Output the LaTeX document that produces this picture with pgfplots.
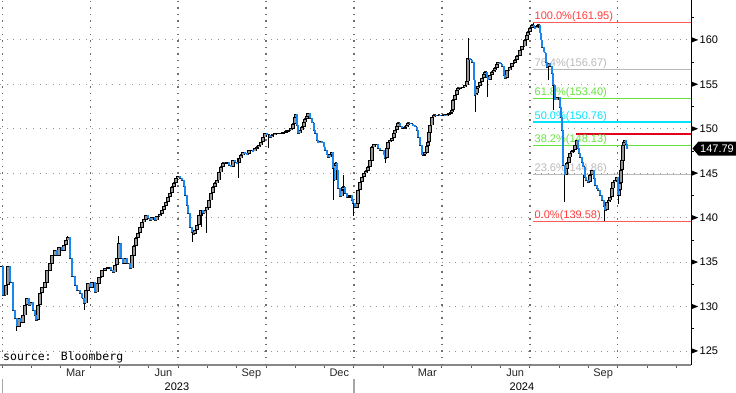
\documentclass[border=0pt]{standalone}
\usepackage{pgfplots}
\pgfplotsset{compat=1.18}
\usepackage{pgfplotstable}
\usepackage{fontspec}
\setmainfont{Liberation Sans}
\newfontfamily\srcfont{DejaVu Sans Mono}
\definecolor{candleblue}{RGB}{25,135,240}
\definecolor{candlegray}{RGB}{150,150,150}
\definecolor{gridgray}{RGB}{150,150,150}
\definecolor{vgridgray}{RGB}{110,110,110}
\definecolor{axgray}{RGB}{135,135,135}
\definecolor{fibred}{RGB}{255,90,90}
\definecolor{fibredtxt}{RGB}{255,60,60}
\definecolor{fibgray}{RGB}{185,185,185}
\definecolor{fibgreen}{RGB}{100,228,60}
\definecolor{fibcyan}{RGB}{0,228,255}
\definecolor{hired}{RGB}{225,0,30}
\newcommand\lab{\fontsize{11}{13}\selectfont}
\tikzset{gridline/.style={draw=gridgray, line width=1pt, dash pattern=on 1pt off 5.6pt},
         vgridline/.style={draw=vgridgray, line width=1.4pt, dash pattern=on 1.4pt off 5.2pt}}
% m = months since 1 Jan 2023, c = close (USD/JPY)
\pgfplotstableread{
m c
-0.070 134.56
0.024 131.30
0.126 132.43
0.194 134.56
0.263 132.76
0.365 129.61
0.433 128.71
0.502 127.81
0.570 128.71
0.638 128.26
0.706 129.05
0.774 130.18
0.843 130.96
0.911 130.18
0.979 130.51
1.047 129.61
1.116 129.05
1.150 128.49
1.218 130.18
1.286 131.53
1.355 132.20
1.457 132.76
1.525 134.11
1.628 134.90
1.696 135.80
1.798 136.36
1.866 135.80
1.935 136.70
2.037 136.36
2.105 136.93
2.173 137.49
2.242 137.83
2.310 135.46
2.378 133.44
2.481 132.43
2.549 131.86
2.651 131.53
2.720 130.96
2.788 130.40
2.856 131.86
2.924 132.65
2.992 132.20
3.061 132.76
3.163 131.64
3.231 132.65
3.300 133.33
3.402 134.11
3.504 134.34
3.607 134.45
3.709 134.11
3.777 133.89
3.845 134.68
3.914 135.46
3.982 137.15
4.050 135.46
4.118 134.90
4.187 135.46
4.255 134.90
4.357 134.34
4.425 135.80
4.494 136.82
4.562 137.72
4.630 138.28
4.698 138.95
4.767 139.52
4.835 139.85
4.903 140.30
4.971 139.97
5.040 139.74
5.108 140.08
5.210 139.74
5.278 140.19
5.381 140.42
5.449 140.87
5.517 141.32
5.586 141.77
5.654 142.33
5.722 142.78
5.790 143.46
5.858 143.91
5.927 144.47
5.995 144.69
6.063 144.47
6.131 144.24
6.200 143.57
6.234 142.55
6.302 141.43
6.336 140.53
6.404 138.95
6.473 138.39
6.507 138.17
6.575 138.62
6.643 139.18
6.711 140.30
6.780 140.87
6.848 140.53
6.916 140.87
6.984 141.20
7.053 141.99
7.121 142.78
7.189 143.46
7.257 143.91
7.326 144.24
7.394 145.14
7.462 145.71
7.530 146.16
7.599 146.16
7.667 146.27
7.735 145.93
7.803 145.71
7.871 146.49
7.940 146.27
8.008 146.16
8.076 146.72
8.144 147.06
8.213 147.39
8.281 147.28
8.349 147.17
8.417 147.62
8.486 147.62
8.554 147.51
8.622 147.84
8.690 147.96
8.759 148.18
8.827 148.52
8.895 149.08
8.963 149.53
9.032 149.31
9.134 149.08
9.202 149.31
9.305 149.53
9.407 149.53
9.509 149.53
9.577 149.64
9.680 149.76
9.748 149.87
9.851 150.09
9.919 150.55
9.987 151.33
10.021 151.67
10.055 150.43
10.089 149.53
10.158 149.87
10.226 150.21
10.294 150.77
10.328 151.11
10.397 151.45
10.431 151.78
10.499 151.22
10.567 150.66
10.635 149.87
10.669 149.53
10.738 148.74
10.772 148.41
10.840 148.63
10.908 148.52
10.977 147.96
11.011 147.62
11.079 147.06
11.113 146.83
11.181 147.17
11.250 147.39
11.284 145.59
11.318 144.24
11.352 145.93
11.386 146.16
11.420 145.37
11.454 143.34
11.523 142.44
11.591 143.12
11.625 143.46
11.693 142.78
11.761 142.33
11.830 142.44
11.864 142.55
11.932 141.99
11.966 141.65
12.034 141.20
12.103 141.65
12.137 143.12
12.205 144.02
12.273 144.58
12.341 145.03
12.410 145.26
12.478 145.71
12.546 146.49
12.614 147.96
12.683 148.29
12.751 148.29
12.819 147.84
12.887 147.62
12.955 147.62
13.024 147.06
13.058 146.72
13.126 147.84
13.160 148.52
13.228 148.74
13.297 148.97
13.365 149.53
13.399 149.87
13.467 150.32
13.501 150.66
13.570 150.32
13.638 150.09
13.706 150.09
13.740 150.21
13.808 150.43
13.843 150.66
13.911 150.55
14.013 150.43
14.081 150.21
14.150 149.87
14.184 149.08
14.252 148.18
14.320 147.06
14.389 147.17
14.423 147.39
14.491 148.07
14.525 148.52
14.559 149.64
14.593 150.43
14.662 151.33
14.730 151.56
14.798 151.45
14.867 151.56
14.935 151.45
15.037 151.56
15.105 151.45
15.173 151.67
15.242 151.78
15.310 151.90
15.344 152.12
15.378 153.25
15.446 153.81
15.515 154.37
15.549 154.60
15.617 154.60
15.719 154.71
15.788 154.93
15.856 155.38
15.890 157.97
15.958 157.75
16.026 157.52
16.095 155.50
16.129 153.81
16.163 154.03
16.197 154.60
16.231 154.82
16.299 155.27
16.367 155.72
16.436 156.17
16.470 156.40
16.538 155.83
16.572 155.50
16.640 156.06
16.709 156.40
16.777 156.62
16.811 156.85
16.879 157.30
16.913 157.52
16.982 157.30
17.050 157.07
17.118 156.06
17.152 155.72
17.220 156.62
17.323 156.96
17.391 157.41
17.494 157.75
17.562 158.20
17.664 158.87
17.732 159.32
17.835 160.00
17.903 160.56
17.937 160.90
18.005 161.35
18.074 161.69
18.142 161.46
18.176 161.35
18.244 161.57
18.278 161.69
18.346 160.79
18.381 160.00
18.415 159.21
18.483 158.65
18.517 158.54
18.551 157.52
18.585 156.96
18.654 157.41
18.688 157.07
18.756 156.28
18.790 154.93
18.858 153.25
18.927 153.58
18.961 153.58
19.029 152.46
19.063 151.33
19.097 149.87
19.131 145.93
19.200 144.81
19.234 145.59
19.268 146.16
19.336 146.83
19.370 147.28
19.438 147.51
19.473 147.62
19.541 148.18
19.609 148.74
19.643 147.84
19.677 147.28
19.711 146.83
19.780 146.27
19.814 145.71
19.882 144.58
19.916 144.24
19.984 144.02
20.052 144.81
20.121 145.37
20.189 144.47
20.223 143.68
20.291 143.34
20.325 143.12
20.394 142.55
20.462 141.99
20.530 141.32
20.564 140.87
20.633 141.77
20.701 141.99
20.735 142.33
20.803 143.34
20.837 144.02
20.905 144.24
20.974 144.58
21.008 142.55
21.042 143.12
21.076 143.91
21.110 145.37
21.144 146.49
21.179 148.18
21.213 148.52
21.247 148.74
21.281 148.29
21.315 147.79
}\data
% open of each candle = previous close
\pgfplotstablecreatecol[create col/assign/.code={%
  \getprevrow{c}\prevc
  \ifx\prevc\empty\getthisrow{c}\prevc\fi
  \pgfkeyslet{/pgfplots/table/create col/next content}\prevc
}]{o}\data
\begin{document}
\begin{tikzpicture}
\useasboundingbox (0pt,-28pt) rectangle (736pt,365pt);
\begin{axis}[
  scale only axis, width=691pt, height=365pt,
  xmin=-0.078, xmax=23.5, ymin=123.43, ymax=164.5,
  axis x line=bottom, axis y line=right,
  axis line style={-},
  x axis line style={draw=axgray, line width=2pt},
  y axis line style={draw=black, line width=0.8pt},
  tick align=outside,
  major tick length=3pt, minor tick length=3pt,
  xtick={0,1,...,23}, xticklabels={},
  major x tick style={draw=axgray!70!black, line width=1pt},
  ytick={125,130,...,160},
  minor ytick={122.5,127.5,...,162.5},
  major y tick style={draw=none},
  minor y tick style={draw=black, line width=0.8pt},
  /pgf/number format/assume math mode=true,
  yticklabel={\tikz[baseline=-3.9pt]\fill[black] (0pt,-2.4pt)--(6pt,0pt)--(0pt,2.4pt)--cycle;\hspace{1.5pt}\pgfmathprintnumber{\tick}},
  yticklabel style={anchor=west, inner sep=0pt, xshift=-2pt, font=\lab},
  ymajorgrids=true, xmajorgrids=false,
  major grid style={gridline},
  clip mode=individual,
]
% quarterly vertical grid lines
\addplot[vgridline, mark=none, forget plot, unbounded coords=jump] coordinates {
(0.01,123.43) (0.01,164.5) (0.01,nan)
(3,123.43) (3,164.5) (3,nan)
(6,123.43) (6,164.5) (6,nan)
(9,123.43) (9,164.5) (9,nan)
(12,123.43) (12,164.5) (12,nan)
(15,123.43) (15,164.5) (15,nan)
(18,123.43) (18,164.5) (18,nan)
(21,123.43) (21,164.5)};
% Fibonacci retracement levels
\addplot[fibred, line width=1.3pt] coordinates {(18.10,161.95) (23.5,161.95)};
\addplot[fibgray, line width=1.1pt] coordinates {(18.10,156.67) (23.5,156.67)};
\addplot[fibgreen, line width=1.1pt] coordinates {(18.10,153.40) (23.5,153.40)};
\addplot[fibcyan, line width=1.3pt] coordinates {(18.10,150.76) (23.5,150.76)};
\addplot[fibgreen, line width=1.1pt] coordinates {(18.10,148.13) (23.5,148.13)};
\addplot[fibgray, line width=1.1pt] coordinates {(18.10,144.86) (23.5,144.86)};
\addplot[fibred, line width=1.3pt] coordinates {(18.10,139.58) (23.5,139.58)};
\addplot[hired, line width=1.8pt] coordinates {(19.57,149.38) (23.5,149.38)};
\node[anchor=base west, inner sep=0pt, font=\lab, text=fibredtxt, yshift=3pt] at (axis cs:18.16,161.95) {100.0\%(161.95)};
\node[anchor=base west, inner sep=0pt, font=\lab, text=fibgray, yshift=3pt] at (axis cs:18.16,156.67) {76.4\%(156.67)};
\node[anchor=base west, inner sep=0pt, font=\lab, text=fibgreen, yshift=3pt] at (axis cs:18.16,153.40) {61.8\%(153.40)};
\node[anchor=base west, inner sep=0pt, font=\lab, text=fibcyan, yshift=3pt] at (axis cs:18.16,150.76) {50.0\%(150.76)};
\node[anchor=base west, inner sep=0pt, font=\lab, text=fibgreen, yshift=3pt] at (axis cs:18.16,148.13) {38.2\%(148.13)};
\node[anchor=base west, inner sep=0pt, font=\lab, text=fibgray, yshift=3pt] at (axis cs:18.16,144.86) {23.6\%(144.86)};
\node[anchor=base west, inner sep=0pt, font=\lab, text=fibredtxt, yshift=3pt] at (axis cs:18.16,139.58) {0.0\%(139.58)};
% price: connector, candle bodies
\addplot[const plot mark left, black!85, line width=1pt, mark=none] table[x=m, y=c] {\data};
\addplot[draw=none, mark=none, error bars/.cd, y dir=both, y explicit, error mark=none,
  error bar style={line width=3.2pt, draw=black, solid}]
  table[x=m, y expr={\thisrow{c}>=\thisrow{o} ? 0.5*(\thisrow{c}+\thisrow{o}) : nan},
        y error expr={0.5*abs(\thisrow{c}-\thisrow{o})+0.05}] {\data};
\addplot[draw=none, mark=none, error bars/.cd, y dir=both, y explicit, error mark=none,
  error bar style={line width=1.3pt, draw=candlegray, solid}]
  table[x=m, y expr={\thisrow{c}>=\thisrow{o} ? 0.5*(\thisrow{c}+\thisrow{o}) : nan},
        y error expr={max(0.5*abs(\thisrow{c}-\thisrow{o})-0.06,0)}] {\data};
\addplot[draw=none, mark=none, error bars/.cd, y dir=both, y explicit, error mark=none,
  error bar style={line width=2.7pt, draw=candleblue, solid}]
  table[x=m, y expr={\thisrow{c}<\thisrow{o} ? 0.5*(\thisrow{c}+\thisrow{o}) : nan},
        y error expr={0.5*abs(\thisrow{c}-\thisrow{o})}] {\data};
% wicks (intraday highs / lows)
\addplot[black, line width=0.9pt, mark=none, unbounded coords=jump] coordinates {
(15.92,157.75) (15.92,160.20) (15.92,nan)
(16.13,153.81) (16.13,151.90) (16.13,nan)
(16.54,155.50) (16.54,153.58) (16.54,nan)
(19.17,144.81) (19.17,141.77) (19.17,nan)
(21.04,142.55) (21.04,141.54) (21.04,nan)
(20.56,140.87) (20.56,139.58) (20.56,nan)
(11.30,145.59) (11.30,141.99) (11.30,nan)
(11.97,141.65) (11.97,140.25) (11.97,nan)
(6.49,138.39) (6.49,137.24) (6.49,nan)
(0.50,127.81) (0.50,127.22) (0.50,nan)
(2.79,130.40) (2.79,129.64) (2.79,nan)
(3.98,137.15) (3.98,137.91) (3.98,nan)
(6.95,140.87) (6.95,138.28) (6.95,nan)
(18.82,154.93) (18.82,152.12) (18.82,nan)
(18.62,156.96) (18.62,155.50) (18.62,nan)
(11.63,143.46) (11.63,144.81) (11.63,nan)
(18.11,161.69) (18.11,161.95) (18.11,nan)
(6.78,140.87) (6.78,138.95) (6.78,nan)
(8.06,146.72) (8.06,144.47) (8.06,nan)
(9.07,149.31) (9.07,147.90) (9.07,nan)
(13.06,147.62) (13.06,146.16) (13.06,nan)
(19.83,144.81) (19.83,143.46) (19.83,nan)
(2.24,137.83) (2.24,137.91)
};
% source
\node[anchor=base west, inner sep=0pt, font={\srcfont\fontsize{11.5}{13}\selectfont}] at ([xshift=3pt,yshift=4pt]axis cs:-0.078,123.43) {source: Bloomberg};
% month labels
\node[anchor=north, inner sep=0pt, font=\lab, text=black!85] at ([yshift=-3.5pt]axis cs:2.5,123.43) {Mar};
\node[anchor=north, inner sep=0pt, font=\lab, text=black!85] at ([yshift=-3.5pt]axis cs:5.5,123.43) {Jun};
\node[anchor=north, inner sep=0pt, font=\lab, text=black!85] at ([yshift=-3.5pt]axis cs:8.5,123.43) {Sep};
\node[anchor=north, inner sep=0pt, font=\lab, text=black!85] at ([yshift=-3.5pt]axis cs:11.5,123.43) {Dec};
\node[anchor=north, inner sep=0pt, font=\lab, text=black!85] at ([yshift=-3.5pt]axis cs:14.5,123.43) {Mar};
\node[anchor=north, inner sep=0pt, font=\lab, text=black!85] at ([yshift=-3.5pt]axis cs:17.5,123.43) {Jun};
\node[anchor=north, inner sep=0pt, font=\lab, text=black!85] at ([yshift=-3.5pt]axis cs:20.5,123.43) {Sep};
% year labels and separators
\node[anchor=north, inner sep=0pt, font=\lab] at ([yshift=-18pt]axis cs:5.96,123.43) {2023};
\node[anchor=north, inner sep=0pt, font=\lab] at ([yshift=-18pt]axis cs:17.73,123.43) {2024};
\draw[gray!70, line width=1.5pt] ([yshift=-14pt]axis cs:0,123.43) -- ([yshift=-28pt]axis cs:0,123.43);
\draw[gray!70, line width=1.5pt] ([yshift=-14pt]axis cs:12,123.43) -- ([yshift=-28pt]axis cs:12,123.43);
% last price tag
\fill[black] ([xshift=1.5pt]axis cs:23.5,147.79) -- ++(6pt,7pt) -- ++(42pt,0pt) -- ++(0pt,-14pt) -- ++(-42pt,0pt) -- cycle;
\node[anchor=base, inner sep=0pt, font=\lab, text=white] at ([xshift=26pt,yshift=-4pt]axis cs:23.5,147.79) {147.79};
\end{axis}
\end{tikzpicture}
\end{document}
